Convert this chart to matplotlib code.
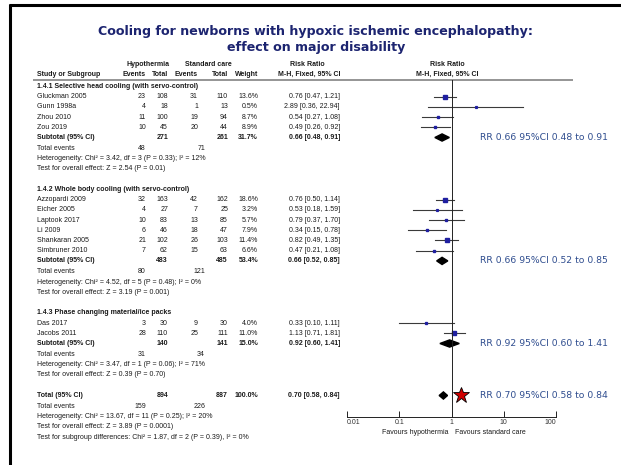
import matplotlib
matplotlib.use("Agg")
import matplotlib.pyplot as plt

# ---- data ----
group_names = ["1.4.1 Selective head cooling (with servo-control)",
               "1.4.2 Whole body cooling (with servo-control)",
               "1.4.3 Phase changing material/ice packs"]

study_names = ["Gluckman 2005", "Gunn 1998a", "Zhou 2010", "Zou 2019",
               "Azzopardi 2009", "Eicher 2005", "Laptook 2017", "Li 2009",
               "Shankaran 2005", "Simbruner 2010",
               "Das 2017", "Jacobs 2011"]
study_group = [0, 0, 0, 0, 1, 1, 1, 1, 1, 1, 2, 2]
hyp_events = [23, 4, 11, 10, 32, 4, 10, 6, 21, 7, 3, 28]
hyp_total = [108, 18, 100, 45, 163, 27, 83, 46, 102, 62, 30, 110]
std_events = [31, 1, 19, 20, 42, 7, 13, 18, 26, 15, 9, 25]
std_total = [110, 13, 94, 44, 162, 25, 85, 47, 103, 63, 30, 111]
weight = [13.6, 0.5, 8.7, 8.9, 18.6, 3.2, 5.7, 7.9, 11.4, 6.6, 4.0, 11.0]
rr = [0.76, 2.89, 0.54, 0.49, 0.76, 0.53, 0.79, 0.34, 0.82, 0.47, 0.33, 1.13]
rr_lo = [0.47, 0.36, 0.27, 0.26, 0.50, 0.18, 0.37, 0.15, 0.49, 0.21, 0.10, 0.71]
rr_hi = [1.21, 22.94, 1.08, 0.92, 1.14, 1.59, 1.70, 0.78, 1.35, 1.08, 1.11, 1.81]

sub_hyp_total = [271, 483, 140]
sub_std_total = [261, 485, 141]
sub_weight = [31.7, 53.4, 15.0]
sub_rr = [0.66, 0.66, 0.92]
sub_lo = [0.48, 0.52, 0.60]
sub_hi = [0.91, 0.85, 1.41]
sub_hyp_events = [48, 80, 31]
sub_std_events = [71, 121, 34]
sub_chi2 = ["3.42", "4.52", "3.47"]
sub_df = [3, 5, 1]
sub_p_het = ["0.33", "0.48", "0.06"]
sub_i2 = [12, 0, 71]
sub_z = ["2.54", "3.19", "0.39"]
sub_p_z = ["0.01", "0.001", "0.70"]

tot_hyp_total, tot_std_total, tot_weight = 894, 887, 100.0
tot_rr, tot_lo, tot_hi = 0.70, 0.58, 0.84
tot_hyp_events, tot_std_events = 159, 226
tot_chi2, tot_df, tot_p_het, tot_i2 = "13.67", 11, "0.25", 20
tot_z, tot_p_z = "3.89", "0.0001"
subgrp_chi2, subgrp_df, subgrp_p, subgrp_i2 = "1.87", 2, "0.39", 0

axis_ticks = [0.01, 0.1, 1, 10, 100]
axis_labels = ["0.01", "0.1", "1", "10", "100"]

# ---- layout (pixel units) ----
W, H = 621, 465
X_NAME, X_EV_H, X_TOT_H, X_EV_S, X_TOT_S, X_W, X_CI = 37, 146, 168, 198, 228, 258, 340
X_TEV_S = 205
X_RR_NOTE = 480
STEP = 10.2
TXT = "#1a1a1a"
BLUE = "#2f4d8f"
FS = 5.0
TF = "Liberation Sans"

fig = plt.figure(figsize=(W / 100, H / 100), dpi=100)
bg = fig.add_axes([0, 0, 1, 1])
bg.set_xlim(0, W)
bg.set_ylim(H, 0)
bg.axis("off")

fx0, fx1 = 347, 556
ax = fig.add_axes([fx0 / W, 0, (fx1 - fx0) / W, 1])
ax.set_xscale("log")
ax.set_xlim(0.01, 100)
ax.set_ylim(H, 0)
ax.patch.set_alpha(0)
for s in ["top", "left", "right"]:
    ax.spines[s].set_visible(False)
Y_AXIS = 417
ax.spines["bottom"].set_position(("data", Y_AXIS))
ax.spines["bottom"].set_bounds(0.01, 100)
ax.spines["bottom"].set_linewidth(0.7)
ax.spines["bottom"].set_color("#222222")
ax.set_yticks([])
ax.set_xticks(axis_ticks)
ax.xaxis.set_minor_locator(matplotlib.ticker.NullLocator())
ax.set_xticklabels(axis_labels, fontsize=FS, family=TF, color="#333333")
for lab, ha in zip(ax.get_xticklabels(), ["left", "center", "center", "center", "right"]):
    lab.set_ha(ha)
ax.tick_params(axis="x", direction="in", length=4, width=0.7, pad=1.5, color="#222222")


def txt(x, y, s, ha="left", bold=False, **kw):
    bg.text(x, y, s, ha=ha, va="center", fontsize=FS, family=TF, color=TXT,
            fontweight="bold" if bold else "normal", **kw)


def ci_str(r, lo, hi):
    return f"{r:.2f} [{lo:.2f}, {hi:.2f}]"


# frame (slide border)
bg.plot([9, W], [5, 5], color="black", lw=2.2, solid_capstyle="butt")
bg.plot([10, 10], [4, H], color="black", lw=2.2, solid_capstyle="butt")

# title
bg.text(316, 31, "Cooling for newborns with hypoxic ischemic encephalopathy:",
        ha="center", va="center", fontsize=9.1, fontweight="bold", color="#1c2470")
bg.text(316, 47.5, "effect on major disability",
        ha="center", va="center", fontsize=9.1, fontweight="bold", color="#1c2470")

# column headers
Y_H1, Y_H2 = 64, 74
txt(148, Y_H1, "Hypothermia", ha="center", bold=True)
txt(208, Y_H1, "Standard care", ha="center", bold=True)
txt(307, Y_H1, "Risk Ratio", ha="center", bold=True)
txt(447, Y_H1, "Risk Ratio", ha="center", bold=True)
txt(X_NAME, Y_H2, "Study or Subgroup", bold=True)
txt(X_EV_H, Y_H2, "Events", ha="right", bold=True)
txt(X_TOT_H, Y_H2, "Total", ha="right", bold=True)
txt(X_EV_S, Y_H2, "Events", ha="right", bold=True)
txt(X_TOT_S, Y_H2, "Total", ha="right", bold=True)
txt(X_W, Y_H2, "Weight", ha="right", bold=True)
txt(X_CI, Y_H2, "M-H, Fixed, 95% CI", ha="right", bold=True)
txt(447, Y_H2, "M-H, Fixed, 95% CI", ha="center", bold=True)
bg.plot([33, 573], [80, 80], color="#8c8c8c", lw=1.3, solid_capstyle="butt")

# rows
y = 86.5
for g, gname in enumerate(group_names):
    txt(X_NAME, y, gname, bold=True)
    for i in [k for k, sg in enumerate(study_group) if sg == g]:
        y += STEP
        txt(X_NAME, y, study_names[i])
        txt(X_EV_H, y, str(hyp_events[i]), ha="right")
        txt(X_TOT_H, y, str(hyp_total[i]), ha="right")
        txt(X_EV_S, y, str(std_events[i]), ha="right")
        txt(X_TOT_S, y, str(std_total[i]), ha="right")
        txt(X_W, y, f"{weight[i]:.1f}%", ha="right")
        txt(X_CI, y, ci_str(rr[i], rr_lo[i], rr_hi[i]), ha="right")
        ax.plot([rr_lo[i], rr_hi[i]], [y, y], color="#3a3a3a", lw=0.8, clip_on=False)
        ax.plot(rr[i], y, marker="s", ms=max(1.3, 0.7 * weight[i] ** 0.5),
                color="#1f1fa0", mec="#1f1fa0", clip_on=False)
    y += STEP
    txt(X_NAME, y, "Subtotal (95% CI)", bold=True)
    txt(X_TOT_H, y, str(sub_hyp_total[g]), ha="right", bold=True)
    txt(X_TOT_S, y, str(sub_std_total[g]), ha="right", bold=True)
    txt(X_W, y, f"{sub_weight[g]:.1f}%", ha="right", bold=True)
    txt(X_CI, y, ci_str(sub_rr[g], sub_lo[g], sub_hi[g]), ha="right", bold=True)
    ax.fill([sub_lo[g], sub_rr[g], sub_hi[g], sub_rr[g]], [y, y - 3.6, y, y + 3.6],
            color="black", clip_on=False)
    bg.text(X_RR_NOTE, y, f"RR {sub_rr[g]:.2f} 95%CI {sub_lo[g]:.2f} to {sub_hi[g]:.2f}",
            ha="left", va="center", fontsize=6.7, color=BLUE)
    y += 11
    txt(X_NAME, y, "Total events")
    txt(X_EV_H, y, str(sub_hyp_events[g]), ha="right")
    txt(X_TEV_S, y, str(sub_std_events[g]), ha="right")
    y += STEP
    txt(X_NAME, y, f"Heterogeneity: Chi\u00b2 = {sub_chi2[g]}, df = {sub_df[g]} "
                   f"(P = {sub_p_het[g]}); I\u00b2 = {sub_i2[g]}%")
    y += STEP
    txt(X_NAME, y, f"Test for overall effect: Z = {sub_z[g]} (P = {sub_p_z[g]})")
    y += 20.6

# overall total
txt(X_NAME, y, "Total (95% CI)", bold=True)
txt(X_TOT_H, y, str(tot_hyp_total), ha="right", bold=True)
txt(X_TOT_S, y, str(tot_std_total), ha="right", bold=True)
txt(X_W, y, f"{tot_weight:.1f}%", ha="right", bold=True)
txt(X_CI, y, ci_str(tot_rr, tot_lo, tot_hi), ha="right", bold=True)
ax.fill([tot_lo, tot_rr, tot_hi, tot_rr], [y, y - 3.6, y, y + 3.6], color="black", clip_on=False)
ax.plot(1.53, y, marker="*", ms=12, mfc="#d00000", mec="black", mew=0.6, clip_on=False)
bg.text(X_RR_NOTE, y, f"RR {tot_rr:.2f} 95%CI {tot_lo:.2f} to {tot_hi:.2f}",
        ha="left", va="center", fontsize=6.7, color=BLUE)
y += 11
txt(X_NAME, y, "Total events")
txt(X_EV_H, y, str(tot_hyp_events), ha="right")
txt(X_TEV_S, y, str(tot_std_events), ha="right")
y += STEP
txt(X_NAME, y, f"Heterogeneity: Chi\u00b2 = {tot_chi2}, df = {tot_df} (P = {tot_p_het}); I\u00b2 = {tot_i2}%")
y += STEP
txt(X_NAME, y, f"Test for overall effect: Z = {tot_z} (P = {tot_p_z})")
y += STEP
txt(X_NAME, y, f"Test for subgroup differences: Chi\u00b2 = {subgrp_chi2}, df = {subgrp_df} "
               f"(P = {subgrp_p}), I\u00b2 = {subgrp_i2}%")

# line of no effect
ax.plot([1, 1], [80, Y_AXIS], color="#222222", lw=0.7, clip_on=False)

# favours labels
txt(448, 432, "Favours hypothermia", ha="right")
txt(455, 432, "Favours standard care")

fig.savefig("out.png", dpi=100)
